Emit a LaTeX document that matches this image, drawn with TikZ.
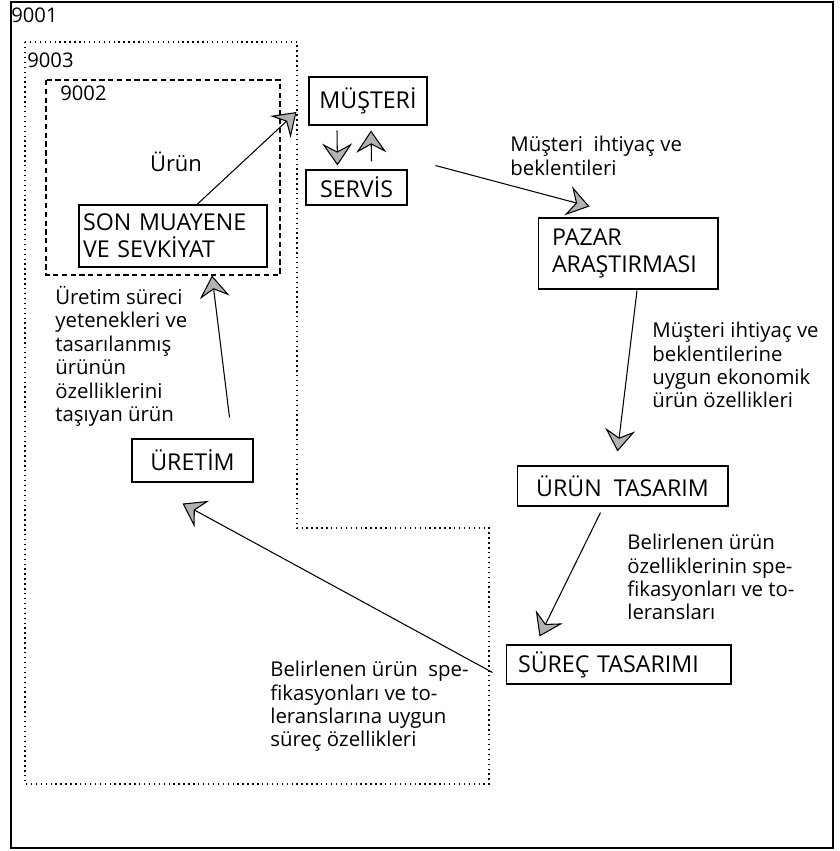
\documentclass[tikz,border=0pt]{standalone}
\usepackage{fontspec}
\setmainfont{Open Sans}
\usetikzlibrary{arrows.meta,calc}

\begin{document}
\begin{tikzpicture}[x=0.02cm,y=-0.02cm,
    kutu/.style={draw=black,line width=0.6pt,inner sep=0pt,font=\fontsize{13.2}{15.5}\selectfont},
    yazi/.style={inner sep=0pt,anchor=north west,align=left,font=\fontsize{11.6}{13.3}\selectfont},
    numara/.style={inner sep=0pt,anchor=west,font=\fontsize{11.5}{13}\selectfont},
    ok/.style={line width=0.6pt,-{Stealth[length=0.44cm,width=0.6cm,inset=0.16cm,fill=gray!60]}}]
    \useasboundingbox (0,0) rectangle (839,851);
    % cerceveler
    \draw[line width=0.6pt] (11,2) rectangle (833,848);
    \draw[dotted,line width=0.8pt] (25,42) -- (297,42) -- (297,528) -- (489,528) -- (489,784) -- (25,784) -- cycle;
    \draw[densely dashed,line width=0.6pt] (46,80) rectangle (280,275);
    \node[numara] (n9001) at (11,15) {9001};
    \node[numara] (n9003) at (27,60) {9003};
    \node[numara] (n9002) at (60,93) {9002};
    % kutular
    \node[kutu,minimum width=2.36cm,minimum height=0.96cm] (musteri) at (368,101) {MÜŞTERİ};
    \node[kutu,minimum width=2.02cm,minimum height=0.70cm] (servis) at (356.5,187.5) {SERVİS};
    \node[kutu,text width=3.60cm,inner xsep=0.08cm,minimum height=1.24cm,align=left] (sonmuayene) at (173,236) {SON MUAYENE\\VE SEVKİYAT};
    \node[kutu,text width=3.04cm,inner xsep=0.28cm,minimum height=1.42cm,align=left] (pazar) at (628,253.5) {PAZAR\\ARAŞTIRMASI};
    \node[kutu,minimum width=4.22cm,minimum height=0.80cm] (urun) at (622.5,486) {ÜRÜN\ \ TASARIM};
    \node[kutu,text width=4.02cm,inner xsep=0.24cm,minimum height=0.78cm,align=left] (surec) at (618.5,664.5) {SÜREÇ TASARIMI};
    \node[kutu,minimum width=2.42cm,minimum height=0.86cm] (uretim) at (192.5,460.5) {ÜRETİM};
    % yazilar
    \node[inner sep=0pt,font=\fontsize{12.5}{14}\selectfont] (urunyazi) at (176,162) {Ürün};
    \node[yazi] (lab1) at (510,136) {Müşteri\ \ ihtiyaç ve\\beklentileri};
    \node[yazi] (lab2) at (652,322) {Müşteri ihtiyaç ve\\beklentilerine\\uygun ekonomik\\ürün özellikleri};
    \node[yazi] (lab3) at (627,534) {Belirlenen ürün\\özelliklerinin spe-\\fikasyonları ve to-\\leransları};
    \node[yazi] (lab4) at (270,661) {Belirlenen ürün\ \ spe-\\fikasyonları ve to-\\leranslarına uygun\\süreç özellikleri};
    \node[yazi] (lab5) at (55,286) {Üretim süreci\\yetenekleri ve\\tasarılanmış\\ürünün\\özelliklerini\\taşıyan ürün};
    % oklar
    \draw[ok] ($(sonmuayene.north)+(24,0)$) -- ($(musteri.west)+(-12,11)$);
    \draw[ok] ($(musteri.south)+(-31,5)$) -- ($(servis.north)+(-19,-4)$);
    \draw[ok] ($(servis.north)+(15,-8)$) -- ($(musteri.south)+(3,5)$);
    \draw[ok] ($(musteri.south east)+(8,40)$) -- ($(pazar.north west)+(52,-11)$);
    \draw[ok] ($(pazar.south)+(9,1)$) -- ($(urun.north)+(-5,-14)$);
    \draw[ok] ($(urun.south)+(-22,6)$) -- ($(surec.north west)+(34,-8)$);
    \draw[ok] ($(surec.west)+(-13,8)$) -- ($(uretim.south)+(-10,21)$);
    \draw[ok] ($(uretim.north)+(37,-21)$) -- ($(sonmuayene.south)+(39,8)$);
\end{tikzpicture}
\end{document}
